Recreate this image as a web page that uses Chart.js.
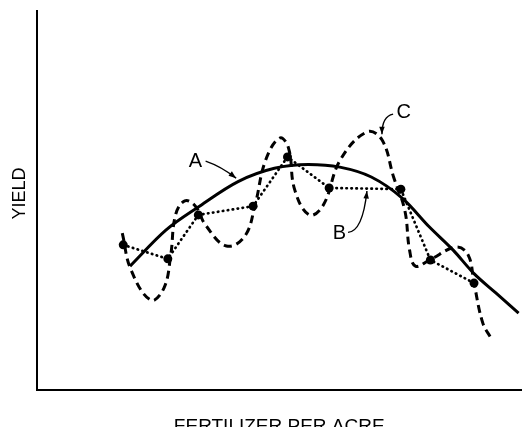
<!DOCTYPE html>
<html>
<head>
<meta charset="utf-8">
<script src="https://cdn.jsdelivr.net/npm/chart.js@4.4.1/dist/chart.umd.min.js"></script>
<style>
  html, body { margin: 0; padding: 0; background: #fff; }
  #wrap { width: 526px; height: 427px; }
</style>
</head>
<body>
<div id="wrap"><canvas id="grafico" width="526" height="427"></canvas></div>
<script>
// fertilizer (x) and yield (y), arbitrary units 0..10
const curvaA_x = [1.92, 2.66, 3.33, 4.15, 4.90, 5.60, 6.25, 6.90, 7.55, 8.10, 8.59, 9.02, 9.47, 9.94];
const curvaA_y = [3.27, 4.22, 4.83, 5.50, 5.85, 5.95, 5.88, 5.62, 5.05, 4.30, 3.69, 3.07, 2.56, 2.03];

const curvaB_x = [1.78, 2.70, 3.33, 4.46, 5.17, 6.03, 7.51, 8.12, 9.02];
const curvaB_y = [3.83, 3.46, 4.62, 4.85, 6.15, 5.33, 5.30, 3.43, 2.82];

const curvaC_x = [1.76, 1.94, 2.35, 2.62, 2.76, 2.86, 3.05, 3.27, 3.48, 3.91, 4.29, 4.50, 4.72, 5.01, 5.19, 5.32,
                  5.62, 5.91, 6.26, 6.81, 7.12, 7.36, 7.59, 7.69, 7.81, 8.10, 8.65, 8.90, 9.02, 9.20, 9.37];
const curvaC_y = [4.14, 3.17, 2.37, 2.69, 3.56, 4.62, 4.99, 4.85, 4.35, 3.80, 4.06, 4.88, 6.07, 6.65, 6.39, 5.28,
                  4.62, 4.88, 6.07, 6.81, 6.60, 5.62, 4.75, 3.69, 3.27, 3.43, 3.77, 3.56, 2.82, 1.77, 1.37];

const rotuloEixoX = 'FERTILIZER PER ACRE';
const rotuloEixoY = 'YIELD';

// labels with arrow: text position, arrow start, bend, tip (data units)
const notas = [
    { texto: 'A', pos: [3.27, 6.02], de: [3.48, 6.04], ctrl: [3.80, 5.90], ate: [4.11, 5.59] },
    { texto: 'B', pos: [6.24, 4.12], de: [6.42, 4.16], ctrl: [6.72, 4.18], ate: [6.81, 5.25] },
    { texto: 'C', pos: [7.57, 7.31], de: [7.35, 7.28], ctrl: [7.12, 7.22], ate: [7.12, 6.75] }
];

const pontos = (xs, ys) => xs.map((x, i) => ({ x: x, y: ys[i] }));

const anotacoes = {
    id: 'anotacoes',
    afterDraw(chart) {
        const ctx = chart.ctx;
        const sx = chart.scales.x, sy = chart.scales.y;
        const px = p => [sx.getPixelForValue(p[0]), sy.getPixelForValue(p[1])];
        ctx.save();
        ctx.fillStyle = '#000';
        ctx.strokeStyle = '#000';

        // axis titles
        ctx.font = '19px "Liberation Sans", Arial, sans-serif';
        ctx.textAlign = 'center';
        ctx.textBaseline = 'alphabetic';
        ctx.fillText(rotuloEixoX, (sx.left + sx.right) / 2, 432);
        ctx.save();
        ctx.translate(25, (sy.top + sy.bottom) / 2 - 7);
        ctx.rotate(-Math.PI / 2);
        ctx.font = '18px "Liberation Sans", Arial, sans-serif';
        ctx.fillText(rotuloEixoY, 0, 0);
        ctx.restore();

        // A, B, C
        ctx.font = '20px "Liberation Sans", Arial, sans-serif';
        ctx.textBaseline = 'middle';
        notas.forEach(n => {
            const [tx, ty] = px(n.pos);
            ctx.fillText(n.texto, tx, ty);
            const [x0, y0] = px(n.de), [cx, cy] = px(n.ctrl), [x1, y1] = px(n.ate);
            ctx.lineWidth = 1.4;
            ctx.beginPath();
            ctx.moveTo(x0, y0);
            ctx.quadraticCurveTo(cx, cy, x1, y1);
            ctx.stroke();
            const ang = Math.atan2(y1 - cy, x1 - cx);
            ctx.beginPath();
            ctx.moveTo(x1, y1);
            ctx.lineTo(x1 - 8 * Math.cos(ang - 0.35), y1 - 8 * Math.sin(ang - 0.35));
            ctx.lineTo(x1 - 8 * Math.cos(ang + 0.35), y1 - 8 * Math.sin(ang + 0.35));
            ctx.closePath();
            ctx.fill();
        });
        ctx.restore();
    }
};

new Chart(document.getElementById('grafico').getContext('2d'), {
    type: 'line',
    data: {
        datasets: [
            {
                label: 'C',
                data: pontos(curvaC_x, curvaC_y),
                borderColor: '#000',
                borderWidth: 3,
                borderDash: [8, 5],
                tension: 0.4,
                pointRadius: 0,
                fill: false
            },
            {
                label: 'A',
                data: pontos(curvaA_x, curvaA_y),
                borderColor: '#000',
                borderWidth: 3,
                cubicInterpolationMode: 'monotone',
                pointRadius: 0,
                fill: false
            },
            {
                label: 'B',
                data: pontos(curvaB_x, curvaB_y),
                borderColor: '#000',
                borderWidth: 2.7,
                borderDash: [0.5, 4.5],
                borderCapStyle: 'round',
                tension: 0,
                pointRadius: 4.5,
                pointBackgroundColor: '#000',
                pointBorderWidth: 0,
                fill: false
            }
        ]
    },
    options: {
        responsive: false,
        animation: false,
        devicePixelRatio: 1,
        layout: { padding: { left: 37, top: 11, right: 0, bottom: 37 } },
        plugins: {
            legend: { display: false },
            tooltip: { enabled: false },
            title: { display: false }
        },
        scales: {
            x: {
                type: 'linear',
                min: 0,
                max: 10,
                grid: { display: false, drawTicks: false },
                ticks: { display: false },
                border: { display: true, color: '#000', width: 2 }
            },
            y: {
                type: 'linear',
                min: 0,
                max: 10,
                grid: { display: false, drawTicks: false },
                ticks: { display: false },
                border: { display: true, color: '#000', width: 2 }
            }
        }
    },
    plugins: [anotacoes]
});
</script>
</body>
</html>
